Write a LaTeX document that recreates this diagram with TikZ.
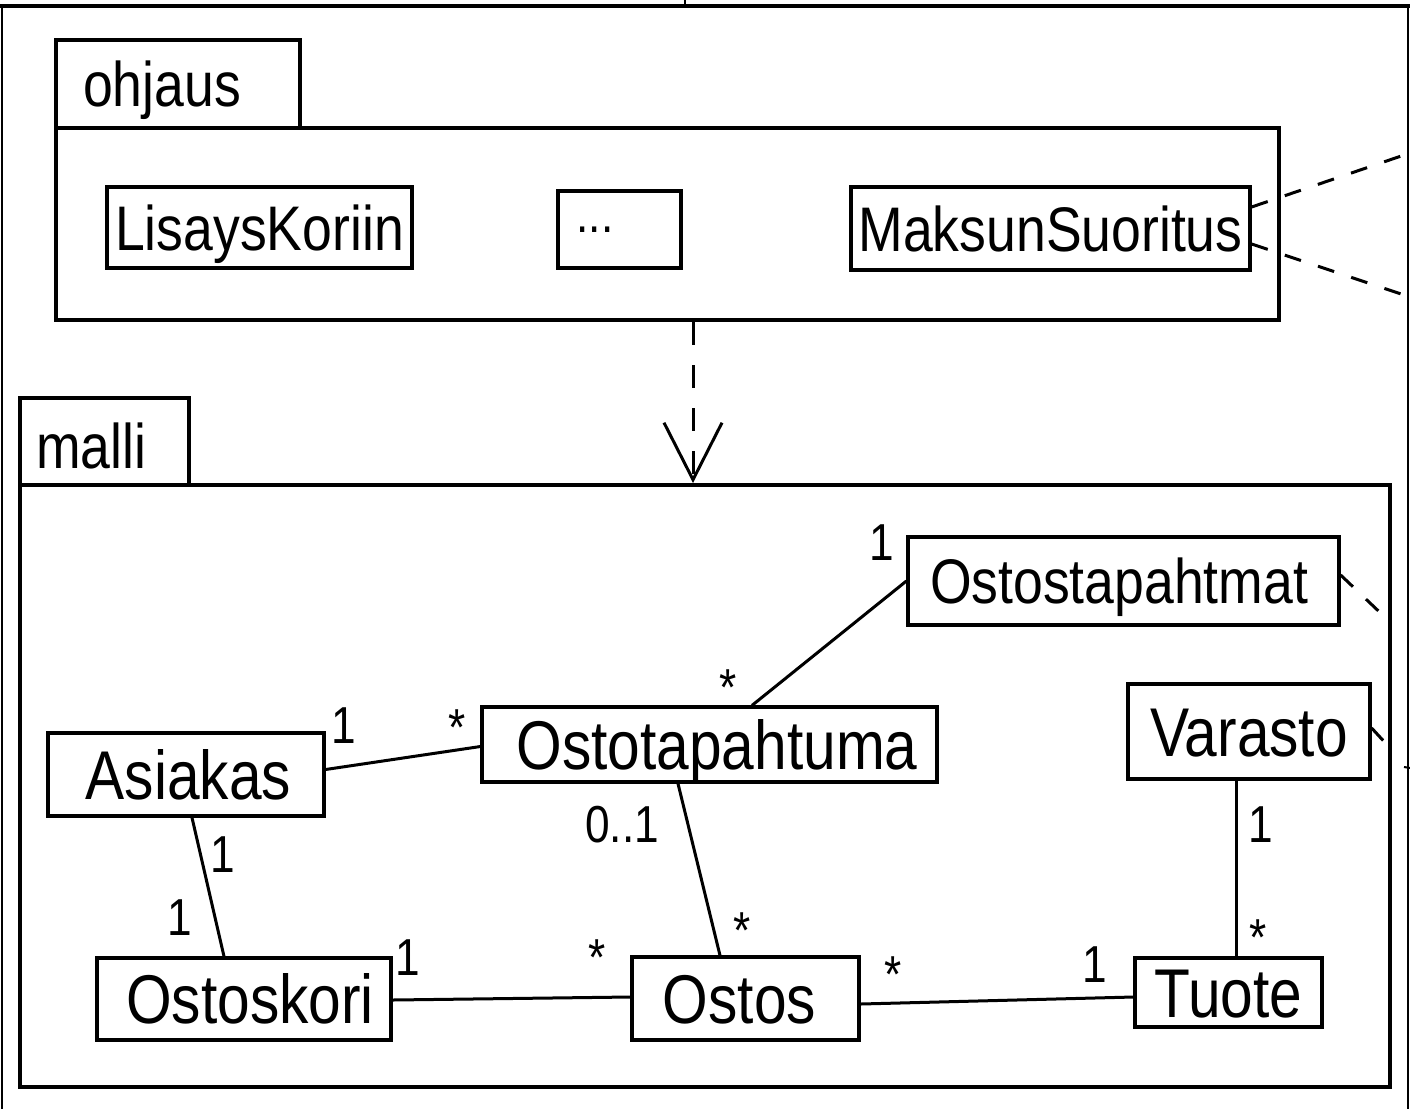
\documentclass[tikz,border=0pt]{standalone}
\usepackage{fontspec}
\setmainfont{Liberation Sans}[FakeStretch=0.85]
\usetikzlibrary{arrows.meta}
\begin{document}
\begin{tikzpicture}[x=1pt,y=-1pt,
  classbox/.style={draw,line width=3.2pt,inner sep=0pt,font=\fontsize{69}{72}\selectfont,text height=49.4pt,text depth=0pt},
  upperbox/.style={classbox,font=\fontsize{63}{66}\selectfont,text height=45pt},
  mult/.style={anchor=base,inner sep=0pt,font=\fontsize{52}{55}\selectfont},
  pkg/.style={draw,line width=4pt,inner sep=0pt},
  pkgname/.style={anchor=base west,inner sep=0pt,font=\fontsize{63}{66}\selectfont},
  conn/.style={line width=3pt},
  dashconn/.style={line width=3pt,dash pattern=on 17pt off 18pt},
  dep/.style={line width=3pt,dash pattern=on 23pt off 20pt,-{Straight Barb[length=57pt,width=58pt,line width=3pt]}}]
\useasboundingbox (0,0) rectangle (1410,1109);
\fill[white] (0,0) rectangle (1410,1109);
% outer frame fragment
\draw[line width=4pt] (0,6) -- (1410,6);
\draw[line width=2pt] (2,6) -- (2,1109);
\draw[line width=2pt] (1408,6) -- (1408,1109);
\draw[line width=2pt] (685,0) -- (685,6);
% packages
\node[pkg,minimum width=244pt,minimum height=88pt] (otab) at (178,84) {};
\node[pkg,minimum width=1223pt,minimum height=192pt] (obody) at (667.5,224) {};
\node[pkgname] (otabtxt) at (83,106) {ohjaus};
\node[pkg,minimum width=169pt,minimum height=87pt] (mtab) at (104.5,441.5) {};
\node[pkg,minimum width=1370pt,minimum height=602pt] (mbody) at (705,786) {};
\node[pkgname] (mtabtxt) at (36,468) {malli};
% ohjaus classes
\node[upperbox,minimum width=305pt,minimum height=81pt] (lk) at (259.5,227.5) {LisaysKoriin};
\node[upperbox,minimum width=123pt,minimum height=77pt] (dots) at (619.5,229.5) {};
\node[mult] (dotstxt) at (595,232) {...};
\node[upperbox,minimum width=399pt,minimum height=83pt] (ms) at (1050.5,228.5) {MaksunSuoritus};
% malli classes
\node[upperbox,minimum width=431pt,minimum height=88pt] (ost) at (1123.5,581) {Ostostapahtmat\kern9pt};
\node[classbox,minimum width=455pt,minimum height=75pt] (otp) at (709.5,744.5) {\kern15pt Ostotapahtuma};
\node[classbox,minimum width=276pt,minimum height=83pt] (as) at (186,774.5) {\kern5pt Asiakas};
\node[classbox,minimum width=242pt,minimum height=95pt] (va) at (1249,731.5) {Varasto};
\node[classbox,minimum width=294pt,minimum height=82pt] (ok) at (244,999) {\kern12pt Ostoskori};
\node[classbox,minimum width=227pt,minimum height=83pt] (os) at (745.5,998.5) {Ostos\kern12pt};
\node[classbox,minimum width=187pt,minimum height=69pt] (tu) at (1228.5,992.5) {Tuote};
% dependency
\coordinate (depx) at (693,0);
\draw[dep] (obody.south -| depx) -- (mbody.north -| depx);
% dashed lines leaving to the right
\coordinate (rt1) at (1410,153);
\coordinate (rt2) at (1410,297);
\coordinate (rt3) at (1390,622);
\coordinate (rt4) at (1390,748);
\draw[dashconn] ([yshift=21.5pt]ms.east) -- (rt1);
\draw[dashconn] ([yshift=-15.5pt]ms.east) -- (rt2);
\draw[dashconn] ([yshift=6pt]ost.east) -- (rt3);
\draw[dashconn] ([yshift=3.5pt]va.east) -- (rt4);
\draw[line width=2pt] (1404,767) -- (1410,768);
% associations
\draw[conn] (ost.west) -- ([xshift=42.5pt]otp.north);
\draw[conn] ([yshift=5pt]as.east) -- ([yshift=-2pt]otp.west);
\draw[conn] ([xshift=-31.5pt]otp.south) -- ([xshift=-25.5pt]os.north);
\draw[conn] ([xshift=6pt]as.south) -- ([xshift=-20pt]ok.north);
\draw[conn] ([yshift=-1pt]ok.east) -- ([yshift=1.5pt]os.west);
\draw[conn] ([yshift=-5.5pt]os.east) -- ([yshift=-4.5pt]tu.west);
\draw[conn] ([xshift=-13pt]va.south) -- ([xshift=-13pt]va.south |- tu.north);
% multiplicities
\node[mult] (m1) at (882,560) {1};
\node[mult] (m2) at (728,705) {*};
\node[mult] (m3) at (344,743) {1};
\node[mult] (m4) at (457,745) {*};
\node[mult] (m5) at (622,842) {0..1};
\node[mult] (m6) at (742,948) {*};
\node[mult] (m7) at (223,872) {1};
\node[mult] (m8) at (180,935) {1};
\node[mult] (m9) at (408,975) {1};
\node[mult] (m10) at (597,975) {*};
\node[mult] (m11) at (893,992) {*};
\node[mult] (m12) at (1095,982) {1};
\node[mult] (m13) at (1261,842) {1};
\node[mult] (m14) at (1258,955) {*};
\end{tikzpicture}
\end{document}
